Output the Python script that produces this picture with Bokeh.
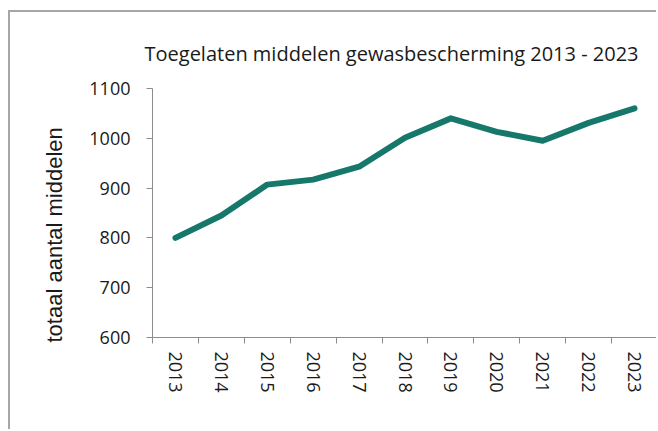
from bokeh.plotting import figure
from bokeh.models import FixedTicker, Range1d, ColumnDataSource, Title
from bokeh.embed import file_html
from bokeh.resources import INLINE

years = ["2013", "2014", "2015", "2016", "2017", "2018", "2019", "2020", "2021", "2022", "2023"]
values = [800, 845, 907, 917, 943, 1001, 1040, 1013, 995, 1031, 1060]
y_ticks = [600, 700, 800, 900, 1000, 1100]
title_text = "Toegelaten middelen gewasbescherming 2013 - 2023"
y_label = "totaal aantal middelen"

FONT = "Open Sans"
AXIS_COL = "#8c8c8c"
TEXT_COL = "#1a1a1a"

xs = [i + 0.5 for i in range(len(years))]
src = ColumnDataSource(dict(x=xs, y=values))

p = figure(width=648, height=419, output_backend="svg", toolbar_location=None,
           x_range=Range1d(0, len(years)), y_range=Range1d(600, 1100),
           min_border_left=142, min_border_right=1, min_border_top=76, min_border_bottom=94,
           title=title_text)
p.styles = {"border-left": "2px solid #a6a6a6", "border-top": "2px solid #a6a6a6",
            "margin-left": "8px", "margin-top": "10px"}
p.outline_line_color = None
p.grid.visible = False
p.background_fill_color = "white"
p.border_fill_color = "white"

p.title.text_font = FONT
p.title.text_font_size = "20px"
p.title.text_font_style = "normal"
p.title.text_color = TEXT_COL
p.title.align = "left"
p.title.offset = -8
p.title.standoff = 43

p.line("x", "y", source=src, line_color="#16786b", line_width=6, line_join="round", line_cap="round")

xa = p.xaxis[0]
xa.ticker = FixedTicker(ticks=xs, minor_ticks=list(range(len(years) + 1)))
xa.major_label_overrides = {x: y for x, y in zip(xs, years)}
xa.major_label_orientation = "vertical"
xa.major_tick_line_color = None
xa.minor_tick_line_color = AXIS_COL
xa.minor_tick_out = 6
xa.minor_tick_in = 0
xa.axis_line_color = AXIS_COL
xa.major_label_text_font = FONT
xa.major_label_text_font_size = "18px"
xa.major_label_text_color = TEXT_COL
xa.major_label_standoff = 8

ya = p.yaxis[0]
ya.ticker = FixedTicker(ticks=y_ticks, minor_ticks=[])
ya.axis_line_color = AXIS_COL
ya.major_tick_line_color = AXIS_COL
ya.major_tick_out = 6
ya.major_tick_in = 0
ya.major_label_text_font = FONT
ya.major_label_text_font_size = "18px"
ya.major_label_text_color = TEXT_COL
ya.major_label_standoff = 16

ytitle = Title(text=y_label, align="left", offset=-5, standoff=40,
               text_font="Liberation Sans", text_font_size="22px",
               text_font_style="normal", text_color=TEXT_COL)
p.add_layout(ytitle, "left")

open("out.html", "w").write(file_html(p, INLINE))
